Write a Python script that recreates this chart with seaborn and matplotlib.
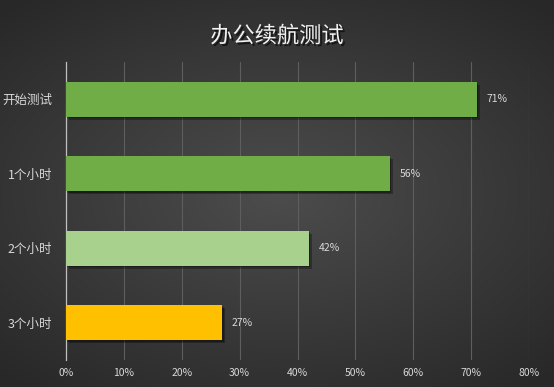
import numpy as np
import pandas as pd
import matplotlib
matplotlib.use('Agg')
import matplotlib.pyplot as plt
import matplotlib.patheffects as pe
import seaborn as sns

# data
categories = ['开始测试', '1个小时', '2个小时', '3个小时']
values = [71, 56, 42, 27]
colors = ['#70AD47', '#70AD47', '#A9D18E', '#FFC000']
xticks = [0, 10, 20, 30, 40, 50, 60, 70, 80]

df = pd.DataFrame({'阶段': categories, '电量': values})

sns.set_theme(style='dark')
plt.rcParams['font.family'] = ['Noto Sans CJK SC', 'DejaVu Sans']

fig = plt.figure(figsize=(5.54, 3.87), dpi=100)

# radial gradient background
bg = fig.add_axes([0, 0, 1, 1], zorder=-10)
yy, xx = np.mgrid[-1:1:387j, -1:1:554j]
r = np.sqrt((xx * 1.0) ** 2 + (yy * 1.15) ** 2)
shade = 0.30 - 0.14 * np.clip(r / 1.45, 0, 1)
bg.imshow(np.dstack([shade] * 3), aspect='auto', extent=[0, 1, 0, 1])
bg.axis('off')

ax = fig.add_axes([66 / 554, 1 - 360 / 387, (529 - 66) / 554, (360 - 62) / 387])
ax.patch.set_alpha(0)

sns.barplot(data=df, y='阶段', x='电量', hue='阶段', palette=colors,
            orient='h', width=0.47, saturation=1, linewidth=0,
            legend=False, ax=ax, zorder=3)

# soft drop shadow under each bar
for bar in ax.patches:
    bar.set_edgecolor('none')
    bar.set_path_effects([pe.SimplePatchShadow(offset=(2, -2), shadow_rgbFace='black', alpha=0.3),
                          pe.SimplePatchShadow(offset=(1, -1), shadow_rgbFace='black', alpha=0.3),
                          pe.Normal()])

for i, v in enumerate(values):
    ax.text(v + 1.6, i, f'{v}%', va='center', ha='left', color='#d9d9d9', fontsize=7.5)

ax.set_xlim(0, 80)
ax.set_ylim(3.5, -0.5)
ax.set_xticks(xticks)
ax.set_xticklabels([f'{t}%' for t in xticks], color='#d9d9d9', fontsize=7.5)
ax.tick_params(axis='y', colors='#d9d9d9', labelsize=9, length=0, pad=10)
ax.tick_params(axis='x', length=0, pad=6)
ax.set_xlabel('')
ax.set_ylabel('')
ax.grid(axis='x', color='#5e5e5e', linewidth=0.8, zorder=0)
ax.grid(axis='y', visible=False)
for s in ['top', 'right', 'bottom']:
    ax.spines[s].set_visible(False)
ax.spines['left'].set_color('#bfbfbf')
ax.spines['left'].set_linewidth(0.9)
for lbl in ax.get_yticklabels():
    lbl.set_color('#d9d9d9')

fig.text(0.5, 1 - 36 / 387, '办公续航测试', ha='center', va='center', color='#f2f2f2',
         fontsize=16,
         path_effects=[pe.withSimplePatchShadow(offset=(1.5, -1.5), shadow_rgbFace='black', alpha=0.6)])

fig.savefig('out.png', dpi=100)
